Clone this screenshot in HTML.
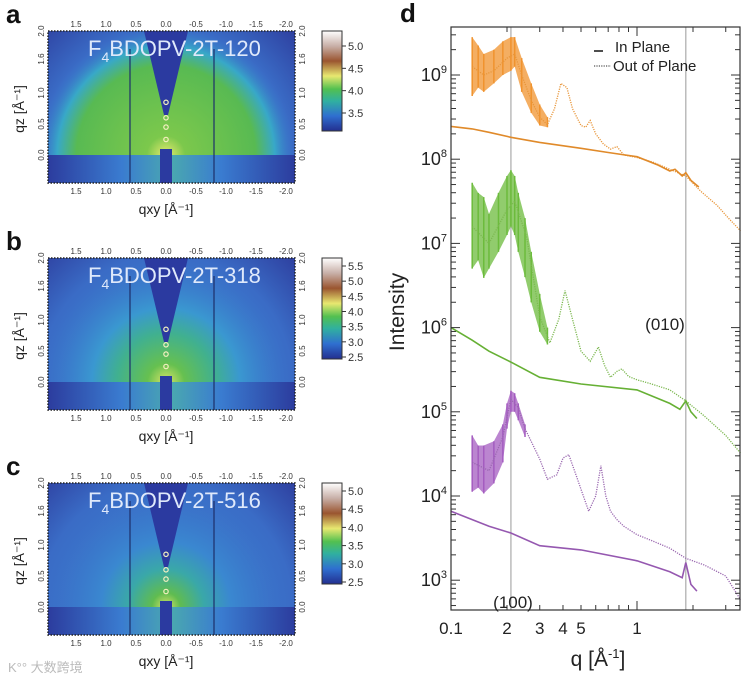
<!DOCTYPE html>
<html><head><meta charset="utf-8"><style>
html,body{margin:0;padding:0;background:#fff;overflow:hidden;width:752px;height:683px;}
svg{display:block;font-family:"Liberation Sans","Noto Sans CJK SC",sans-serif;}
</style></head><body>
<svg id="fig" width="752" height="683" viewBox="0 0 752 683" xmlns="http://www.w3.org/2000/svg">
<defs id="defs">
  <linearGradient id="lowband" x1="0" x2="1" y1="0" y2="0">
    <stop offset="0" stop-color="#2c3c9e"/><stop offset="0.3" stop-color="#3a7cd0"/><stop offset="0.5" stop-color="#4aa8b0"/><stop offset="0.7" stop-color="#3a7cd0"/><stop offset="1" stop-color="#2c3c9e"/>
  </linearGradient>
  <linearGradient id="cbar" x1="0" x2="0" y1="1" y2="0">
    <stop offset="0" stop-color="#232f8f"/><stop offset="0.15" stop-color="#2f6fd0"/><stop offset="0.3" stop-color="#30b0a0"/><stop offset="0.42" stop-color="#52c050"/><stop offset="0.55" stop-color="#e8e870"/><stop offset="0.7" stop-color="#9a5530"/><stop offset="0.85" stop-color="#c8b0a8"/><stop offset="1" stop-color="#ffffff"/>
  </linearGradient>
</defs>
<g id="heatmaps"></g>
<g id="plotd"></g>
<text x="8" y="672" font-size="13" fill="#bbb">K°° 大数跨境</text>
</svg>
<script>
// ---------- Panel d data ----------
const xTickVals = [0.1, 0.2, 0.3, 0.4, 0.5, 1];
const xTickLabels = ["0.1", "2", "3", "4", "5", "1"];
const yTickExps = [9, 8, 7, 6, 5, 4, 3];
const peakLinesQ = [0.21, 1.83];

const orangeOopQ = [0.13,0.15,0.17,0.2,0.22,0.24,0.27,0.3,0.33,0.36,0.39,0.42,0.45,0.5,0.53,0.56,0.6,0.66,0.72,0.78,0.85,1.0,1.2,1.5,1.83,2.2,2.7,3.1,3.6];
const orangeOopLog = [9.1,9.0,9.05,9.2,9.25,9.0,8.7,8.5,8.41,8.6,8.9,8.85,8.6,8.4,8.38,8.46,8.3,8.18,8.12,8.15,8.05,8.02,7.97,7.88,7.8,7.62,7.45,7.3,7.15];
const orangeIpQ = [0.1,0.13,0.16,0.21,0.3,0.5,0.7,1.0,1.3,1.5,1.6,1.75,1.83,1.95,2.15];
const orangeIpLog = [8.39,8.36,8.32,8.26,8.2,8.13,8.08,8.03,7.93,7.86,7.88,7.8,7.84,7.75,7.67];
const orangeBandQ = [0.13,0.14,0.15,0.17,0.19,0.21,0.22,0.24,0.27,0.3,0.33];
const orangeBandHi = [9.45,9.35,9.25,9.3,9.4,9.45,9.45,9.2,8.9,8.65,8.5];
const orangeBandLo = [8.75,8.85,8.8,8.9,9.0,9.05,9.1,8.8,8.55,8.4,8.38];

const greenOopQ = [0.13,0.16,0.2,0.22,0.255,0.3,0.34,0.38,0.41,0.45,0.5,0.56,0.62,0.67,0.72,0.78,0.83,0.9,1.0,1.2,1.5,1.83,2.3,3.0,3.6];
const greenOopLog = [7.2,7.0,7.4,7.5,7.08,6.13,5.82,6.1,6.44,6.1,5.72,5.6,5.77,5.55,5.41,5.48,5.51,5.42,5.38,5.33,5.26,5.13,4.95,4.72,4.51];
const greenIpQ = [0.1,0.13,0.16,0.21,0.3,0.5,1.0,1.5,1.7,1.83,1.95,2.1];
const greenIpLog = [6.0,5.85,5.72,5.59,5.41,5.33,5.26,5.1,5.03,5.13,5.0,4.92];
const greenBandQ = [0.13,0.14,0.15,0.16,0.18,0.2,0.21,0.22,0.23,0.25,0.27,0.3,0.33];
const greenBandHi = [7.72,7.6,7.55,7.35,7.6,7.8,7.87,7.8,7.6,7.3,6.9,6.4,6.0];
const greenBandLo = [6.7,6.8,6.59,6.7,6.9,7.1,7.2,7.1,6.9,6.6,6.3,5.95,5.8];

const purpleOopQ = [0.13,0.16,0.19,0.21,0.23,0.25,0.3,0.33,0.37,0.4,0.43,0.47,0.5,0.55,0.6,0.64,0.68,0.72,0.78,0.85,1.0,1.2,1.5,1.83,2.3,3.0,3.6];
const purpleOopLog = [4.4,4.3,4.7,5.15,5.05,4.8,4.44,4.2,4.25,4.45,4.49,4.25,4.08,3.82,4.0,4.36,4.0,3.82,3.72,3.64,3.54,3.47,3.38,3.26,3.18,3.05,2.77];
const purpleIpQ = [0.1,0.13,0.16,0.21,0.3,0.5,1.0,1.5,1.75,1.83,1.95,2.1];
const purpleIpLog = [3.82,3.72,3.64,3.56,3.41,3.36,3.23,3.1,3.03,3.21,2.95,2.87];
const purpleBandQ = [0.13,0.14,0.15,0.17,0.19,0.2,0.21,0.22,0.23,0.25];
const purpleBandHi = [4.72,4.6,4.6,4.65,4.85,5.1,5.25,5.22,5.1,4.85];
const purpleBandLo = [4.05,4.1,4.03,4.15,4.4,4.8,5.0,5.0,4.9,4.7];

// ---------- Heatmap panel data ----------
const panelLetters = ["a", "b", "c"];
const panelTitles = ["120", "318", "516"];
const panelTops = [31, 258, 483];
const cbarTicks = [["5.0","4.5","4.0","3.5"], ["5.5","5.0","4.5","4.0","3.5","3.0","2.5"], ["5.0","4.5","4.0","3.5","3.0","2.5"]];
const qxyTicks = [1.5, 1.0, 0.5, 0.0, -0.5, -1.0, -1.5, -2.0];
const qzTicks = [2.0, 1.6, 1.0, 0.5, 0.0];

const NS = "http://www.w3.org/2000/svg";
function mk(tag, attrs, parent, text) {
  const e = document.createElementNS(NS, tag);
  for (const k in attrs) e.setAttribute(k, attrs[k]);
  if (text !== undefined) e.textContent = text;
  parent.appendChild(e);
  return e;
}

// ---------- Heatmaps ----------
const hm = document.getElementById("heatmaps");
const defs = document.getElementById("defs");
const blobStops = [
  [[0,"#e6ea70",1],[0.15,"#7cc84c",1],[0.7,"#58ba52",1],[0.85,"#38a8c8",1],[1,"#3a78cc",0]],
  [[0,"#d8e468",1],[0.15,"#66c050",1],[0.4,"#40b090",1],[0.6,"#3a98d0",1],[1,"#3a78cc",0]],
  [[0,"#d8e468",1],[0.12,"#60bc50",1],[0.32,"#3aa8a8",1],[0.55,"#3a88d0",1],[1,"#3a70c8",0]]
];
const haloStops = [[0,"#3e88d4",1],[0.7,"#3a6cc6",1],[1,"#2e3f9f",1]];
const blobR = [128, 123, 118];
function radGrad(id, cx, cy, r, stops) {
  const gr = mk("radialGradient", {id: id, gradientUnits: "userSpaceOnUse", cx: cx, cy: cy, r: r}, defs);
  stops.forEach(s => mk("stop", {offset: s[0], "stop-color": s[1], "stop-opacity": s[2]}, gr));
}
panelTops.forEach((top, i) => {
  const g = mk("g", {}, hm);
  
  
  const L = 48, R = 295, T = top, B = top + 152;
  const x0 = 166, pxX = 60, y0 = T + 124, pxZ = 62;
  const X = q => x0 - q * pxX, Y = q => y0 - q * pxZ;
  radGrad("halo" + i, x0, y0, 180, haloStops);
  radGrad("blob" + i, x0, y0, blobR[i], blobStops[i]);
  const lt = mk("text", {x: 6, y: T - 8, "font-size": 26, "font-weight": "bold", fill: "#111"}, g, panelLetters[i]);
  
  
  const img = mk("g", {}, g);
  
  
  mk("rect", {x: L, y: T, width: R - L, height: B - T, fill: `url(#halo${i})`}, img);
  mk("rect", {x: L, y: T, width: R - L, height: y0 - T, fill: `url(#blob${i})`}, img);
  mk("rect", {x: L, y: y0, width: R - L, height: B - y0, fill: "url(#lowband)"}, img);
  mk("polygon", {points: `${x0-22},${T} ${x0+22},${T} ${x0+2},${y0-40} ${x0-2},${y0-40}`, fill: "#2b3aa0"}, img);
  mk("rect", {x: x0 - 6, y: y0 - 6, width: 12, height: B - y0 + 6, fill: "#2b3aa0"}, img);
  [0.6, -0.8].forEach(q => mk("line", {x1: X(q), x2: X(q), y1: T + 18, y2: B, stroke: "#1d2f6a", "stroke-width": 1.2}, img));
  [0.25, 0.45, 0.6, 0.85].forEach(q => mk("circle", {cx: x0, cy: Y(q), r: 2.2, fill: "none", stroke: "#f4f0c0", "stroke-width": 1.2}, img));
  mk("rect", {x: L, y: T, width: R - L, height: B - T, fill: "none", stroke: "#222", "stroke-width": 1.5, "stroke-dasharray": "1.5 1.5"}, g);
  const tt = mk("text", {x: 88, y: T + 25, "font-size": 22, fill: "#dfe9fb"}, g);
  
  
  mk("tspan", {}, tt, "F");
  mk("tspan", {"font-size": 14, dy: 6}, tt, "4");
  mk("tspan", {dy: -6}, tt, "BDOPV-2T-" + panelTitles[i]);
  qxyTicks.forEach(q => {
    const lab = q.toFixed(1);
    mk("text", {x: X(q), y: T - 4, "font-size": 8, fill: "#333", "text-anchor": "middle"}, g, lab);
    mk("text", {x: X(q), y: B + 11, "font-size": 8, fill: "#333", "text-anchor": "middle"}, g, lab);
  });
  qzTicks.forEach(q => {
    const yy = q === 1.6 ? T + 28 : Y(q);
    mk("text", {x: 0, y: 0, "font-size": 8, fill: "#333", "text-anchor": "middle", transform: `translate(${L - 4},${yy}) rotate(-90)`}, g, q.toFixed(1));
    mk("text", {x: 0, y: 0, "font-size": 8, fill: "#333", "text-anchor": "middle", transform: `translate(${R + 10},${yy}) rotate(-90)`}, g, q.toFixed(1));
  });
  const yl = mk("text", {x: 0, y: 0, "font-size": 14, fill: "#222", "text-anchor": "middle", transform: `translate(24,${T + 78}) rotate(-90)`}, g, "qz [Å⁻¹]");
  
  
  const xl = mk("text", {x: 166, y: B + 31, "font-size": 14, fill: "#222", "text-anchor": "middle"}, g, "qxy [Å⁻¹]");
  
  
  const cbT = T, cbB = T + (i === 0 ? 100 : 101);
  const cb = mk("rect", {x: 322, y: cbT, width: 20, height: cbB - cbT, fill: "url(#cbar)", stroke: "#333", "stroke-width": 1}, g);
  
  
  const ticks = cbarTicks[i];
  const startY = i === 0 ? T + 15 : T + 8, endY = i === 0 ? T + 82 : cbB - 2;
  ticks.forEach((t, k) => {
    const yy = startY + (endY - startY) * k / (ticks.length - 1);
    mk("line", {x1: 342, x2: 346, y1: yy, y2: yy, stroke: "#333"}, g);
    mk("text", {x: 348, y: yy + 4, "font-size": 11, fill: "#333"}, g, t);
  });
});

// ---------- Panel d ----------
const pd = document.getElementById("plotd");
const PL = 451, PR = 740, PT = 27, PB = 610, DEC = 186, YDEC = 84.2;
const xS = q => PL + DEC * Math.log10(q / 0.1);
const yS = lg => 75 + YDEC * (9 - lg);

const dl = mk("text", {x: 400, y: 22, "font-size": 26, "font-weight": "bold", fill: "#111"}, pd, "d");



peakLinesQ.forEach(q => {
  const l = mk("line", {x1: xS(q), x2: xS(q), y1: PT, y2: PB, stroke: "#aaa", "stroke-width": 1.2}, pd);
  
  
});

function band(qs, lo, hi, color, name) {
  const pts = qs.map((q, k) => `${xS(q)},${yS(hi[k])}`).concat(qs.slice().reverse().map((q, k) => `${xS(q)},${yS(lo[qs.length - 1 - k])}`));
  const p = mk("polygon", {points: pts.join(" "), fill: color, opacity: 0.75}, pd);
  
  
  let d = "";
  qs.forEach((q, k) => { d += `M${xS(q)},${yS(lo[k])}L${xS(q)},${yS(hi[k])}`; });
  mk("path", {d: d, stroke: color, "stroke-width": 1.5, fill: "none"}, pd);
}
function line(qs, lg, color, dotted, name) {
  const d = qs.map((q, k) => (k ? "L" : "M") + xS(q).toFixed(1) + "," + yS(lg[k]).toFixed(1)).join("");
  const p = mk("path", {d: d, stroke: color, "stroke-width": dotted ? 1.3 : 1.6, fill: "none", "stroke-dasharray": dotted ? "1.2 1.2" : "none"}, pd);
  
  
}
band(orangeBandQ, orangeBandLo, orangeBandHi, "#f0932e", "orange-oop-noise");
line(orangeOopQ, orangeOopLog, "#e8963a", true, "orange-out-of-plane");
line(orangeIpQ, orangeIpLog, "#e08a2a", false, "orange-in-plane");
band(greenBandQ, greenBandLo, greenBandHi, "#6cbb3c", "green-oop-noise");
line(greenOopQ, greenOopLog, "#7cb850", true, "green-out-of-plane");
line(greenIpQ, greenIpLog, "#66b034", false, "green-in-plane");
band(purpleBandQ, purpleBandLo, purpleBandHi, "#a45cc0", "purple-oop-noise");
line(purpleOopQ, purpleOopLog, "#9a68b0", true, "purple-out-of-plane");
line(purpleIpQ, purpleIpLog, "#9558b0", false, "purple-in-plane");

const fr = mk("rect", {x: PL, y: PT, width: PR - PL, height: PB - PT, fill: "none", stroke: "#333", "stroke-width": 1.2}, pd);


for (let dec = 0.1; dec < 10; dec *= 10) {
  for (let m = 1; m < 10; m++) {
    const q = dec * m; const x = xS(q);
    if (x > PR) break;
    const len = m === 1 ? 9 : 5;
    mk("line", {x1: x, x2: x, y1: PB, y2: PB - len, stroke: "#333"}, pd);
    mk("line", {x1: x, x2: x, y1: PT, y2: PT + len, stroke: "#333"}, pd);
  }
}
for (let e = 2; e <= 9; e++) {
  for (let m = 1; m < 10; m++) {
    const y = yS(e + Math.log10(m));
    if (y < PT || y > PB) continue;
    const len = m === 1 ? 9 : 5;
    mk("line", {x1: PL, x2: PL + len, y1: y, y2: y, stroke: "#333"}, pd);
    mk("line", {x1: PR, x2: PR - len, y1: y, y2: y, stroke: "#333"}, pd);
  }
}
xTickVals.forEach((q, k) => {
  const t = mk("text", {x: xS(q), y: 634, "font-size": 17, fill: "#222", "text-anchor": "middle"}, pd, xTickLabels[k]);
  
  
});
yTickExps.forEach(e => {
  const t = mk("text", {x: 447, y: yS(e) + 6, "font-size": 18, fill: "#222", "text-anchor": "end"}, pd);
  
  
  mk("tspan", {}, t, "10");
  mk("tspan", {"font-size": 11, dy: -8}, t, String(e));
});
const yt = mk("text", {x: 0, y: 0, "font-size": 21, fill: "#222", "text-anchor": "middle", transform: "translate(404,312) rotate(-90)"}, pd, "Intensity");


const xt = mk("text", {x: 598, y: 666, "font-size": 21, fill: "#222", "text-anchor": "middle"}, pd);


mk("tspan", {}, xt, "q [Å");
mk("tspan", {"font-size": 13, dy: -8}, xt, "-1");
mk("tspan", {dy: 8}, xt, "]");
const a1 = mk("text", {x: 665, y: 330, "font-size": 17, fill: "#222", "text-anchor": "middle"}, pd, "(010)");


const a2 = mk("text", {x: 513, y: 608, "font-size": 17, fill: "#222", "text-anchor": "middle"}, pd, "(100)");


const lg = mk("g", {}, pd);


mk("line", {x1: 594, x2: 603, y1: 51, y2: 51, stroke: "#222", "stroke-width": 1.6}, lg);
mk("text", {x: 615, y: 52, "font-size": 15, fill: "#222"}, lg, "In Plane");
mk("line", {x1: 594, x2: 611, y1: 66, y2: 66, stroke: "#555", "stroke-width": 1.2, "stroke-dasharray": "1.2 1.2"}, lg);
mk("text", {x: 613, y: 71, "font-size": 15, fill: "#222"}, lg, "Out of Plane");
</script>
</body></html>
